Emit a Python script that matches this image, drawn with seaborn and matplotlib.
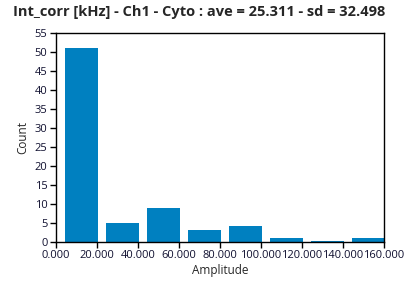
import matplotlib
matplotlib.use("Agg")
import matplotlib.pyplot as plt
import seaborn as sns
import pandas as pd
from matplotlib.ticker import FormatStrFormatter, MultipleLocator

bin_centers = [12.5, 32.5, 52.5, 72.5, 92.5, 112.5, 132.5, 152.5]
counts = [51, 5, 9, 3, 4, 1, 0.2, 1]
title = "Int_corr [kHz] - Ch1 - Cyto : ave = 25.311 - sd = 32.498"

sns.set_theme(style="white")
plt.rcParams['font.family'] = ['Open Sans', 'DejaVu Sans']

df = pd.DataFrame({"Amplitude": bin_centers, "Count": counts})

fig = plt.figure(figsize=(4.08, 2.87), dpi=100)
ax = fig.add_axes([0.137, 0.158, 0.804, 0.727])
sns.barplot(data=df, x="Amplitude", y="Count", native_scale=True, width=0.8,
            color="#0080C0", saturation=1, ax=ax, edgecolor="none")
ax.set_xlim(0, 160)
ax.set_ylim(0, 55)
ax.xaxis.set_major_locator(MultipleLocator(20))
ax.yaxis.set_major_locator(MultipleLocator(5))
ax.xaxis.set_major_formatter(FormatStrFormatter("%.3f"))
for s in ax.spines.values():
    s.set_color("black")
    s.set_linewidth(1)
ax.tick_params(axis="both", which="major", direction="out", length=4, width=1,
               color="black", labelsize=8, pad=2, left=True, bottom=True,
               labelcolor="#101030")
ax.set_xlabel("Amplitude", fontsize=8.5, labelpad=2)
ax.set_ylabel("Count", fontsize=8.5, labelpad=4)
fig.text(0.489, 0.958, title, fontsize=10.5, fontweight="bold",
         ha="center", va="center")
fig.savefig("out.png", dpi=100)
